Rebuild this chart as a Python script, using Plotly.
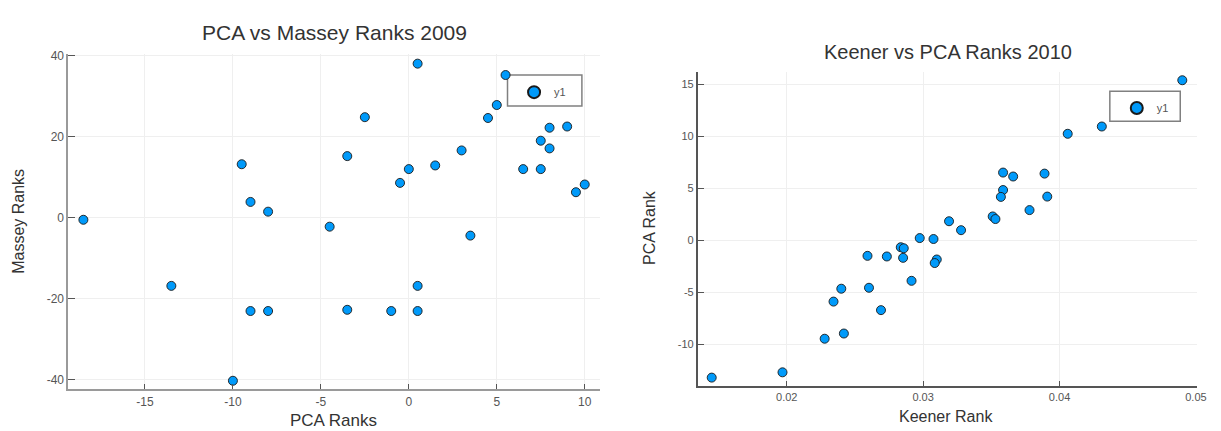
import plotly.graph_objects as go

W, H = 1221, 431

# ---- data: left chart (PCA vs Massey Ranks 2009)
pca_2009 = [-18.5, -9.5, -9.0, -8.0, -3.5, -2.5, -0.5, 0.0, 0.5, 1.5, 3.0, 4.5, 5.0, 5.5,
            6.5, 7.5, 7.5, 8.0, 8.0, 9.0, 9.5, 10.0,
            -13.5, -10.0, -9.0, -8.0, -4.5, -3.5, -1.0, 0.5, 0.5, 3.5]
massey_2009 = [-0.5, 13.2, 3.9, 1.5, 15.2, 24.8, 8.6, 12.0, 38.0, 12.9, 16.6, 24.6, 27.8, 35.2,
               12.0, 19.0, 12.0, 22.2, 17.1, 22.5, 6.3, 8.2,
               -16.8, -40.2, -23.0, -23.0, -2.2, -22.7, -23.0, -16.8, -23.0, -4.4]

# ---- data: right chart (Keener vs PCA Ranks 2010)
keener_2010 = [0.0490, 0.0431, 0.0406, 0.03586, 0.0366, 0.0389, 0.03586, 0.0357, 0.0391,
               0.0378, 0.0351, 0.0353, 0.0319, 0.03278, 0.02975, 0.03076, 0.02836, 0.02858,
               0.02592, 0.02734, 0.02853, 0.0310, 0.03085, 0.02915, 0.0240, 0.02603, 0.02343,
               0.02691, 0.02419, 0.02278, 0.01969, 0.01450]
pca_2010 = [15.4, 10.95, 10.25, 6.52, 6.14, 6.42, 4.84, 4.18, 4.21,
            2.91, 2.3, 2.05, 1.84, 0.98, 0.22, 0.13, -0.66, -0.76,
            -1.49, -1.55, -1.68, -1.84, -2.18, -3.89, -4.65, -4.56, -5.89,
            -6.71, -8.96, -9.46, -12.69, -13.2]

left_xticks = [-15, -10, -5, 0, 5, 10]
left_yticks = [-40, -20, 0, 20, 40]
right_xticks = [0.02, 0.03, 0.04, 0.05]
right_xlabels = ["0.02", "0.03", "0.04", "0.05"]
right_yticks = [-10, -5, 0, 5, 10, 15]

FONT = "Liberation Sans, Arial, Helvetica, sans-serif"
BLUE = "rgb(0,154,250)"


def px_x(p):
    return p / W


def px_y(p):
    return 1 - p / H


def labels(vals):
    return [str(v) for v in vals]


fig = go.Figure()
marker = dict(color=BLUE, size=9, line=dict(color="#1a1a1a", width=0.9))
fig.add_trace(go.Scatter(x=pca_2009, y=massey_2009, mode="markers", name="y1",
                         marker=marker, xaxis="x", yaxis="y", legend="legend"))
fig.add_trace(go.Scatter(x=keener_2010, y=pca_2010, mode="markers", name="y1",
                         marker=marker, xaxis="x2", yaxis="y2", legend="legend2"))

common_axis = dict(showgrid=True, gridcolor="#efefef", gridwidth=1, zeroline=False,
                   showline=True, ticks="inside", mirror=False)

fig.update_layout(
    width=W, height=H,
    margin=dict(l=0, r=0, t=0, b=0),
    paper_bgcolor="white", plot_bgcolor="white",
    font=dict(family=FONT, color="#444"),
    xaxis=dict(common_axis, domain=[px_x(69), px_x(605)], range=[-19.35, 10.87],
               tickvals=left_xticks, ticktext=labels(left_xticks),
               linecolor="#9a9a9a", linewidth=2, tickcolor="#555",
               ticklen=5, tickfont=dict(size=12, color="#555"), anchor="y"),
    yaxis=dict(common_axis, domain=[px_y(389), px_y(49.5)], range=[-42.35, 40.4],
               tickvals=left_yticks, ticktext=labels(left_yticks),
               linecolor="#9a9a9a", linewidth=2, tickcolor="#555",
               ticklen=7, tickfont=dict(size=12, color="#555"), anchor="x"),
    xaxis2=dict(common_axis, domain=[px_x(703.7), px_x(1206.5)], range=[0.01349, 0.05005],
                tickvals=right_xticks, ticktext=right_xlabels,
                linecolor="#555", linewidth=2, tickcolor="#555", ticklen=5,
                tickfont=dict(size=11, color="#555"), anchor="y2"),
    yaxis2=dict(common_axis, domain=[px_y(385.3), px_y(67.7)], range=[-13.99, 16.2],
                tickvals=right_yticks, ticktext=labels(right_yticks),
                linecolor="#555", linewidth=2, tickcolor="#555",
                ticklen=6, tickfont=dict(size=11, color="#555"), anchor="x2"),
    legend=dict(x=px_x(518.3), y=px_y(73.5), xanchor="left", yanchor="top",
                bgcolor="rgba(0,0,0,0)", borderwidth=0,
                font=dict(size=11, color="#555"), itemsizing="constant"),
    legend2=dict(x=px_x(1126), y=px_y(89.5), xanchor="left", yanchor="top",
                 bgcolor="rgba(0,0,0,0)", borderwidth=0,
                 font=dict(size=11, color="#555"), itemsizing="constant"),
    showlegend=True,
)

# legend frames
for (x0, x1, y0, y1) in [(511.7, 586.7, 70.7, 102.3), (1119, 1190, 87.3, 117.7)]:
    fig.add_shape(type="rect", xref="paper", yref="paper",
                  x0=px_x(x0), x1=px_x(x1), y0=px_y(y1), y1=px_y(y0),
                  line=dict(color="#808080", width=1.5), fillcolor="white", layer="below")

annotations = [
    dict(text="PCA vs Massey Ranks 2009", x=px_x(337), y=px_y(28.3), size=21, angle=0),
    dict(text="Keener vs PCA Ranks 2010", x=px_x(956), y=px_y(47.3), size=20, angle=0),
    dict(text="PCA Ranks", x=px_x(336), y=px_y(420), size=17, angle=0),
    dict(text="Keener Rank", x=px_x(954), y=px_y(416), size=16, angle=0),
    dict(text="Massey Ranks", x=px_x(18.5), y=px_y(219), size=16, angle=-90),
    dict(text="PCA Rank", x=px_x(655), y=px_y(225), size=16, angle=-90),
]
for a in annotations:
    fig.add_annotation(text=a["text"], x=a["x"], y=a["y"], xref="paper", yref="paper",
                       xanchor="center", yanchor="middle", showarrow=False,
                       textangle=a["angle"], font=dict(size=a["size"], color="#333", family=FONT))

fig.write_html(
    "out.html",
    config={"displayModeBar": False},
    post_script="document.body.style.margin='0';document.documentElement.style.overflow='hidden';",
)
